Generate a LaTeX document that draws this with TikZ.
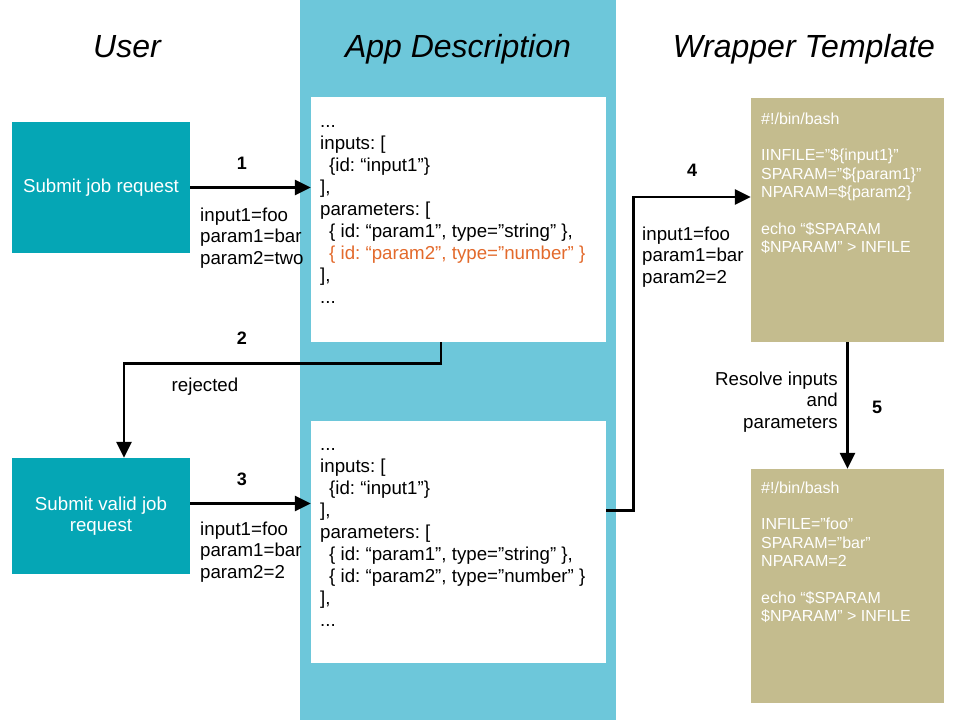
\documentclass[tikz,border=0pt]{standalone}
\usepackage{fontspec}
\setmainfont{Liberation Sans}
\usetikzlibrary{arrows.meta,calc}
\definecolor{colblue}{HTML}{6DC7DA}
\definecolor{teal}{HTML}{05A6B5}
\definecolor{tan}{HTML}{C4BC8E}
\definecolor{orangetxt}{HTML}{E36A2C}
\frenchspacing
\tikzset{
  title/.style={font=\fontsize{32}{36}\selectfont\itshape, anchor=base},
  userbox/.style={fill=teal, minimum width=178pt, text=white, align=center,
     font=\fontsize{18.7}{21.5}\selectfont, inner sep=0pt},
  codebox/.style={fill=white, minimum width=295pt, inner sep=0pt},
  tanbox/.style={fill=tan, minimum width=193pt, inner sep=0pt},
  code/.style={anchor=north west, align=left, inner sep=0pt,
     font=\fontsize{18.7}{22}\selectfont},
  tancode/.style={anchor=north west, align=left, inner sep=0pt, text=white,
     font=\fontsize{16}{18.4}\selectfont},
  lbl/.style={anchor=north west, align=left, inner sep=0pt,
     font=\fontsize{18.7}{21.5}\selectfont},
  num/.style={font=\fontsize{18}{20}\selectfont\bfseries, inner sep=0pt},
  flow/.style={line width=2.8pt, -{Triangle[length=16pt,width=15pt]}},
}
\begin{document}
\begin{tikzpicture}[x=1pt,y=-1pt]
\useasboundingbox (0,0) rectangle (960,720);
\fill[colblue] (300,0) rectangle (616,720);

\node[title] (tuser) at (127,57) {User};
\node[title] (tapp) at (458,57) {App Description};
\node[title] (twrap) at (804,57) {Wrapper Template};

\node[userbox, minimum height=131pt] (sub1) at (101,187.5) {Submit job request};
\node[userbox, minimum height=116pt] (sub2) at (101,516) {Submit valid job\\request};

\node[codebox, minimum height=245pt] (wb1) at (458.5,219.5) {};
\node[codebox, minimum height=242pt] (wb2) at (458.5,542) {};
\node[tanbox, minimum height=244pt] (tan1) at (847.5,220) {};
\node[tanbox, minimum height=234pt] (tan2) at (847.5,586) {};

\node[code] (c1) at (320,111.6) {\strut...\\inputs: [\\\hspace*{9pt}\{id: “input1”\}\\],\\parameters: [\\\hspace*{9pt}\{ id: “param1”, type=”string” \},\\\hspace*{9pt}\textcolor{orangetxt}{\{ id: “param2”, type=”number” \}}\\],\\...};
\node[code] (c2) at (320,434.6) {\strut...\\inputs: [\\\hspace*{9pt}\{id: “input1”\}\\],\\parameters: [\\\hspace*{9pt}\{ id: “param1”, type=”string” \},\\\hspace*{9pt}\{ id: “param2”, type=”number” \}\\],\\...};

\node[tancode] (t1) at (761,111) {\strut\#!/bin/bash\\~\\IINFILE=”\$\{input1\}”\\SPARAM=”\$\{param1\}”\\NPARAM=\$\{param2\}\\~\\echo “\$SPARAM\\\$NPARAM” > INFILE};
\node[tancode] (t2) at (761,480) {\strut\#!/bin/bash\\~\\INFILE=”foo”\\SPARAM=”bar”\\NPARAM=2\\~\\echo “\$SPARAM\\\$NPARAM” > INFILE};

% arrow anchors
\coordinate (s2) at ([xshift=-17.5pt]wb1.south);
\coordinate (e2) at ([xshift=23pt]sub2.north);
\coordinate (s3) at ([yshift=12.5pt]sub2.east);
\coordinate (s4) at ([yshift=-90pt]wb2.north east);
\coordinate (e4) at ([yshift=23pt]tan1.west);

% arrows
\draw[flow] (sub1.east) -- (wb1.west |- sub1.east);
\draw[flow] (s2) -- ++(0,21) -| (e2);
\draw[flow] (s3) -- (wb2.west |- s3);
\draw[flow] (s4) -- ++(27,0) |- (e4);
\draw[flow] (tan1.south) -- (tan2.north);

% labels
\node[num] (n1) at (242,163) {1};
\node[num] (n2) at (242,338) {2};
\node[num] (n3) at (242,479) {3};
\node[num] (n4) at (692,170) {4};
\node[num] (n5) at (877,407) {5};

\node[lbl] (l1) at (200,206) {\strut input1=foo\\param1=bar\\param2=two};
\node[lbl] (l3) at (200,520) {\strut input1=foo\\param1=bar\\param2=2};
\node[lbl] (l4) at (642,225) {\strut input1=foo\\param1=bar\\param2=2};
\node[lbl, anchor=center] (rej) at (205,387) {rejected};
\node[lbl, anchor=north east, align=right] (res) at (838,370) {\strut Resolve inputs\\and\\parameters};
\end{tikzpicture}
\end{document}
